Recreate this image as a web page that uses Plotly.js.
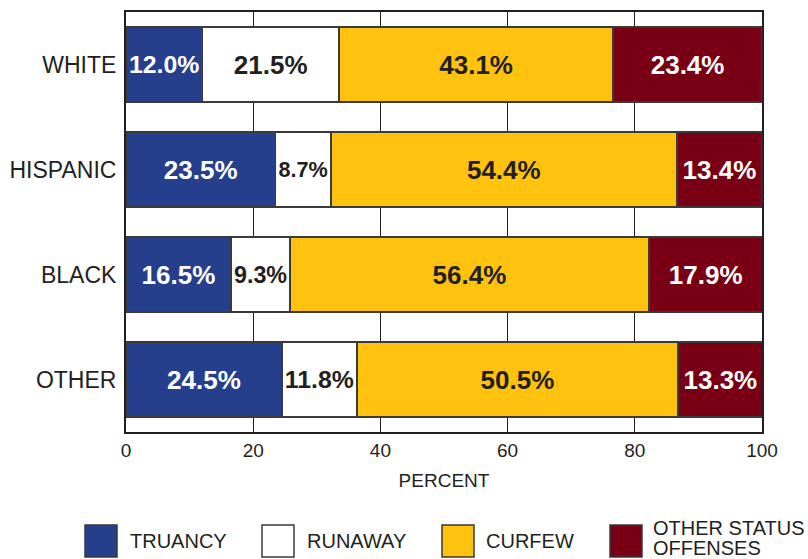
<!DOCTYPE html>
<html>
<head>
<meta charset="utf-8">
<script src="https://cdn.plot.ly/plotly-3.0.1.min.js"></script>
<style>
  html, body { margin: 0; padding: 0; background: #ffffff; }
  #chart { width: 808px; height: 559px; }
</style>
</head>
<body>
<div id="chart"></div>
<script>
// ---- data ----
var categories = ["WHITE", "HISPANIC", "BLACK", "OTHER"];
var truancy = [12.0, 23.5, 16.5, 24.5];
var runaway = [21.5, 8.7, 9.3, 11.8];
var curfew = [43.1, 54.4, 56.4, 50.5];
var otherStatus = [23.4, 13.4, 17.9, 13.3];
var seriesNames = ["TRUANCY", "RUNAWAY", "CURFEW", "OTHER STATUS<br>OFFENSES"];
var xTicks = [0, 20, 40, 60, 80, 100];

// ---- styles ----
var ink = "#231f20";
var fills = ["#253f8d", "#ffffff", "#ffc20e", "#790014"];
var textColors = ["#ffffff", ink, ink, "#ffffff"];
var values = [truancy, runaway, curfew, otherStatus];

var traces = values.map(function (vals, i) {
  return {
    type: "bar",
    orientation: "h",
    y: categories,
    x: vals,
    name: seriesNames[i],
    marker: { color: fills[i], line: { color: "#3a3a3a", width: 1.5 } },
    texttemplate: "%{x:.1f}%",
    textposition: "inside",
    insidetextanchor: "middle",
    textangle: 0,
    textfont: { family: "Liberation Sans, Arial, sans-serif", size: 26, weight: "bold", color: textColors[i] },
    hoverinfo: "skip",
    showlegend: false
  };
});

// ---- custom legend (large swatches) in pixel terms, converted to paper coords ----
var plotL = 126, plotR = 762, plotT = 12, plotB = 432;
var pw = plotR - plotL, ph = plotB - plotT;
function px(x) { return (x - plotL) / pw; }
function py(y) { return (plotB - y) / ph; }
var boxLeft = [85, 262, 442, 610];
var textLeft = [128, 305, 484, 651];
var boxTop = 525, boxSize = 32, textMid = 541;

var shapes = [];
var annotations = [];
seriesNames.forEach(function (nm, i) {
  shapes.push({
    type: "rect", xref: "paper", yref: "paper",
    x0: px(boxLeft[i]), x1: px(boxLeft[i] + boxSize),
    y0: py(boxTop + boxSize), y1: py(boxTop),
    fillcolor: fills[i], line: { color: "#3a3a3a", width: 1.5 }
  });
  var lines = nm.split("<br>");
  var mids = lines.length === 1 ? [textMid] : [528, 548];
  lines.forEach(function (ln, k) {
    annotations.push({
      xref: "paper", yref: "paper",
      x: px(textLeft[i]), y: py(mids[k]),
      xanchor: "left", yanchor: "middle", align: "left",
      text: ln, showarrow: false,
      font: { family: "Liberation Sans, Arial, sans-serif", size: 20, color: ink }
    });
  });
});

var layout = {
  width: 808, height: 559,
  margin: { l: plotL, r: 808 - plotR, t: plotT, b: 559 - plotB },
  paper_bgcolor: "#ffffff",
  plot_bgcolor: "#ffffff",
  barmode: "stack",
  bargap: 0.29,
  showlegend: false,
  font: { family: "Liberation Sans, Arial, sans-serif", color: ink },
  xaxis: {
    range: [0, 100],
    tickvals: xTicks,
    ticktext: xTicks.map(String),
    showgrid: true, gridcolor: ink, gridwidth: 1,
    zeroline: false,
    showline: true, mirror: true, linecolor: ink, linewidth: 2,
    ticks: "", ticklabelstandoff: 0,
    tickfont: { size: 19, color: ink },
    title: { text: "PERCENT", font: { size: 19, color: ink }, standoff: 14 },
    fixedrange: true
  },
  yaxis: {
    autorange: "reversed",
    showgrid: false, zeroline: false,
    showline: true, mirror: true, linecolor: ink, linewidth: 2,
    ticks: "", ticklabelstandoff: 3,
    tickfont: { size: 23, color: ink },
    fixedrange: true
  },
  shapes: shapes,
  annotations: annotations
};

Plotly.newPlot("chart", traces, layout, { displayModeBar: false, staticPlot: true });
</script>
</body>
</html>
